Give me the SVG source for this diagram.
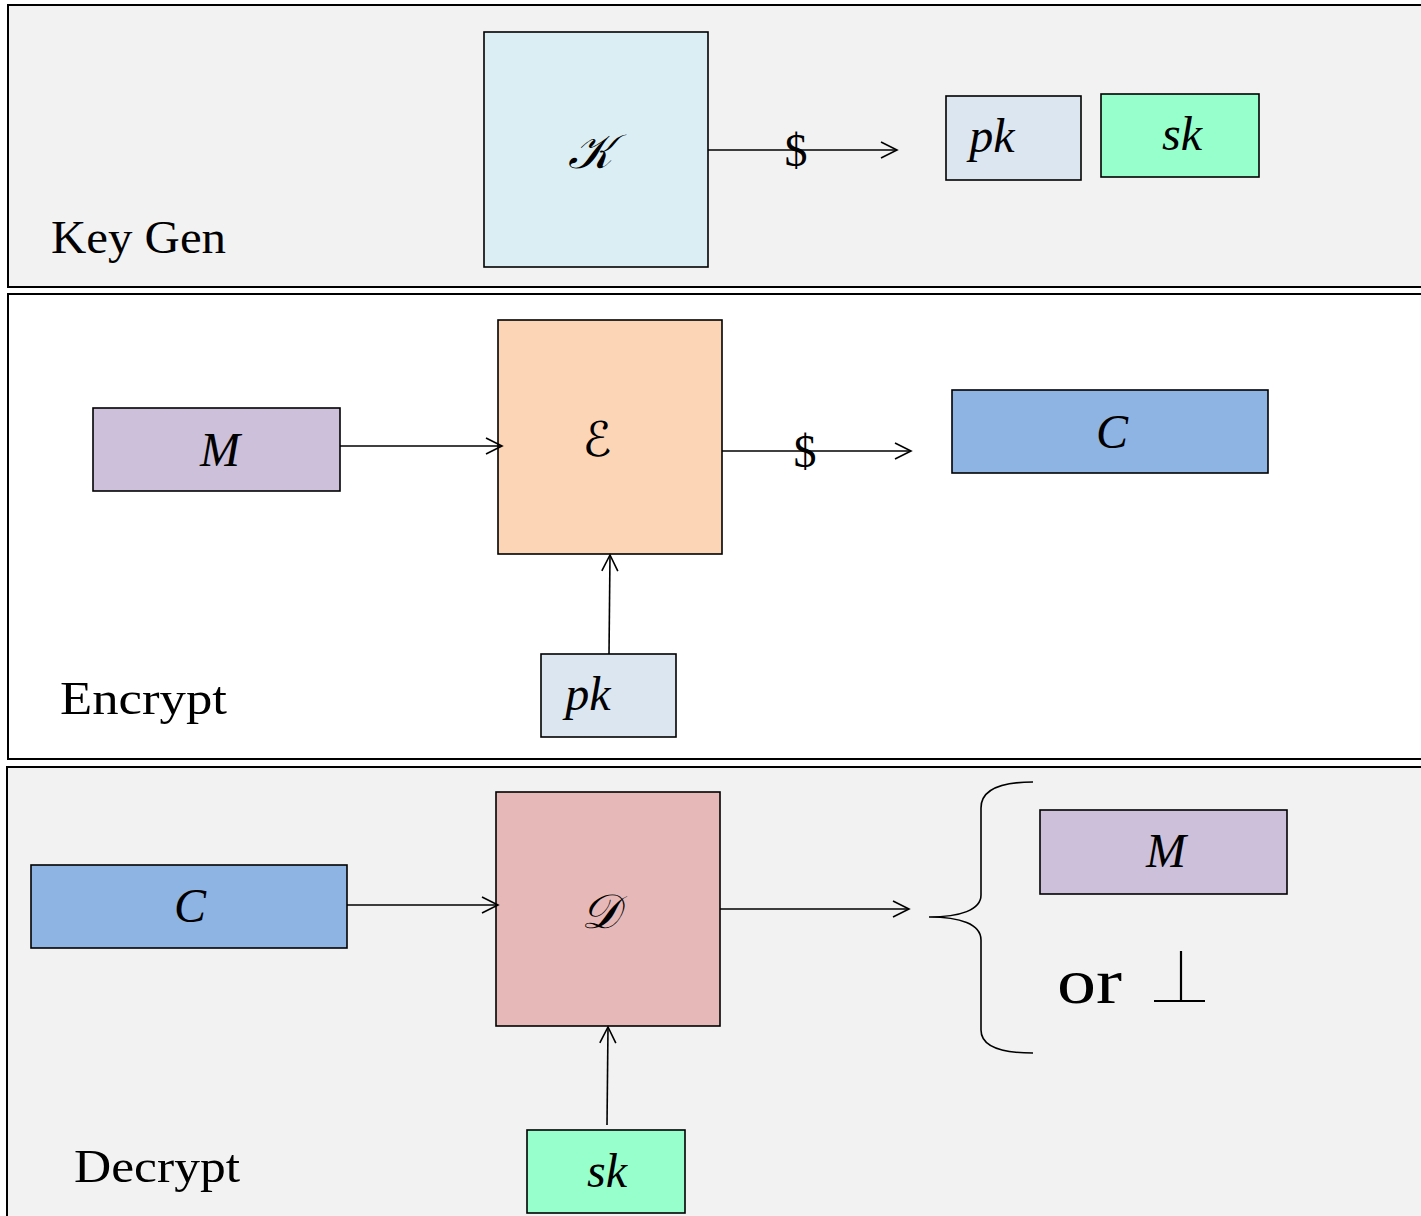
<svg xmlns="http://www.w3.org/2000/svg" width="1421" height="1216" viewBox="0 0 1421 1216">
<defs>
<marker id="arr" markerWidth="20" markerHeight="20" refX="18" refY="10" orient="auto" markerUnits="userSpaceOnUse">
<path d="M2,2 L18,10 L2,18" fill="none" stroke="#000" stroke-width="1.6"/>
</marker>
<style>
.panel{stroke:#000;stroke-width:2}
.box{stroke:#000;stroke-width:1.6}
.lbl{font-family:"Liberation Serif","DejaVu Serif",serif;font-size:46px;fill:#000}
.math{font-family:"Liberation Serif","DejaVu Serif",serif;font-style:italic;font-size:48px;fill:#000;text-anchor:middle}
.cal{font-family:"DejaVu Serif","DejaVu Sans",serif;font-style:italic;font-size:48px;fill:#000;text-anchor:middle}
.conn{stroke:#000;stroke-width:1.6;fill:none}
.dollar{font-family:"Liberation Serif","DejaVu Serif",serif;font-size:46px;fill:#000;text-anchor:middle}
</style>
</defs>
<rect width="1421" height="1216" fill="#fff"/>
<g id="panel-keygen">
<rect class="panel" x="8" y="5" width="1430" height="282" fill="#f2f2f2"/>
<text class="lbl" x="51" y="253" textLength="175" lengthAdjust="spacingAndGlyphs">Key Gen</text>
</g>
<g id="panel-encrypt">
<rect class="panel" x="8" y="294" width="1430" height="465" fill="#fff"/>
<text class="lbl" x="60" y="714" textLength="167" lengthAdjust="spacingAndGlyphs">Encrypt</text>
</g>
<g id="panel-decrypt">
<rect class="panel" x="7" y="767" width="1430" height="470" fill="#f2f2f2"/>
<text class="lbl" x="74" y="1182" textLength="166" lengthAdjust="spacingAndGlyphs">Decrypt</text>
</g>
<g id="node-K">
<rect class="box" x="484" y="32" width="224" height="235" fill="#dbeef3"/>
<text class="cal" x="590" y="168">𝒦</text>
</g>
<g id="node-pk1">
<rect class="box" x="946" y="96" width="135" height="84" fill="#dce6f1"/>
<text class="math" x="992" y="152">pk</text>
</g>
<g id="node-sk1">
<rect class="box" x="1101" y="94" width="158" height="83" fill="#97ffcc"/>
<text class="math" x="1182" y="150">sk</text>
</g>
<g id="node-M1">
<rect class="box" x="93" y="408" width="247" height="83" fill="#ccc0da"/>
<text class="math" x="220" y="466">M</text>
</g>
<g id="node-E">
<rect class="box" x="498" y="320" width="224" height="234" fill="#fbd5b5"/>
<text class="cal" x="597" y="456">ℰ</text>
</g>
<g id="node-C1">
<rect class="box" x="952" y="390" width="316" height="83" fill="#8eb4e3"/>
<text class="math" x="1112" y="448">C</text>
</g>
<g id="node-pk2">
<rect class="box" x="541" y="654" width="135" height="83" fill="#dce6f1"/>
<text class="math" x="588" y="710">pk</text>
</g>
<g id="node-C2">
<rect class="box" x="31" y="865" width="316" height="83" fill="#8eb4e3"/>
<text class="math" x="190" y="922">C</text>
</g>
<g id="node-D">
<rect class="box" x="496" y="792" width="224" height="234" fill="#e6b9b8"/>
<text class="cal" x="600" y="928">𝒟</text>
</g>
<g id="node-M2">
<rect class="box" x="1040" y="810" width="247" height="84" fill="#ccc0da"/>
<text class="math" x="1166" y="867">M</text>
</g>
<g id="node-sk2">
<rect class="box" x="527" y="1130" width="158" height="83" fill="#97ffcc"/>
<text class="math" x="607" y="1187">sk</text>
</g>
<g id="node-or">
<text x="1057" y="1003" textLength="65" lengthAdjust="spacingAndGlyphs" style="font-family:'Liberation Serif','DejaVu Serif',serif;font-size:64px;fill:#000">or</text>
<path d="M1181,951 V1001 M1154,1001 H1205" stroke="#000" stroke-width="2.2" fill="none"/>
</g>
<g id="connectors">
<line class="conn" x1="708" y1="150" x2="897" y2="150" marker-end="url(#arr)"/>
<text class="dollar" x="796" y="166">$</text>
<line class="conn" x1="340" y1="446" x2="502" y2="446" marker-end="url(#arr)"/>
<line class="conn" x1="722" y1="451" x2="911" y2="451" marker-end="url(#arr)"/>
<text class="dollar" x="805" y="467">$</text>
<line class="conn" x1="609" y1="654" x2="610" y2="555" marker-end="url(#arr)"/>
<line class="conn" x1="347" y1="905" x2="498" y2="905" marker-end="url(#arr)"/>
<line class="conn" x1="720" y1="909" x2="909" y2="909" marker-end="url(#arr)"/>
<line class="conn" x1="607" y1="1125" x2="608" y2="1027" marker-end="url(#arr)"/>
<path class="conn" stroke-width="2" d="M1033,782 C1000,782 981,790 981,808 V895 C981,910 960,917 929,917 C960,917 981,924 981,940 V1030 C981,1046 1000,1053 1033,1053"/>
</g>
</svg>
